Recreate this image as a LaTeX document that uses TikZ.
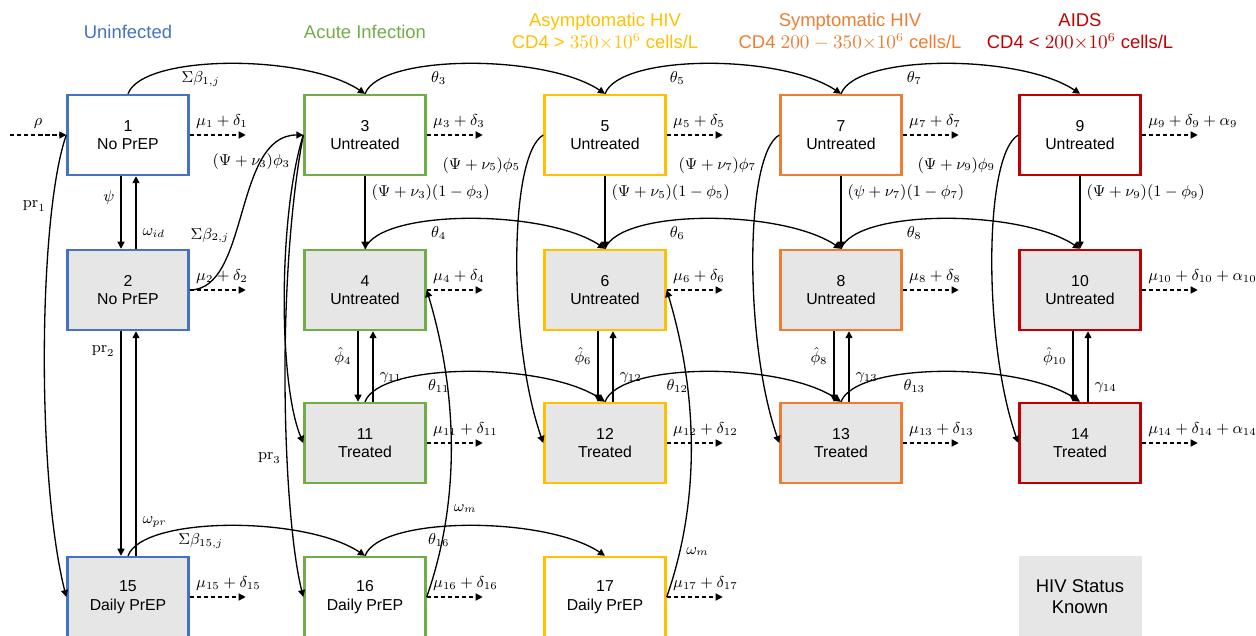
\documentclass[tikz,border=0pt]{standalone}
\usepackage[no-math]{fontspec}
\setmainfont{Liberation Sans}
\usetikzlibrary{arrows.meta}
\definecolor{uninf}{HTML}{4472C4}
\definecolor{acute}{HTML}{70AD47}
\definecolor{asym}{HTML}{FFC000}
\definecolor{sympt}{HTML}{ED7D31}
\definecolor{aids}{HTML}{C00000}
\definecolor{hivgray}{HTML}{E6E6E6}
\begin{document}
\begin{tikzpicture}[x=0.02cm,y=0.02cm,
    comp/.style={draw,line width=1.4pt,minimum width=2.42cm,minimum height=1.6cm,align=center,font=\fontsize{9}{10.5}\selectfont},
    head/.style={align=center,font=\fontsize{10.5}{12.5}\selectfont},
    flow/.style={-{Triangle[length=4pt,width=4pt]},line width=0.75pt,font=\fontsize{9}{10}\selectfont},
    loss/.style={flow,dash pattern=on 2.5pt off 1.5pt}]
  \useasboundingbox (0,0) rectangle (1256,635);
  \node[head,text=uninf] (h1) at (128,603) {Uninfected};
  \node[head,text=acute] (h2) at (365,603) {Acute Infection};
  \node[head,text=asym] (h3) at (605,603) {Asymptomatic HIV\\CD4 > $350{\times}10^{6}$ cells/L};
  \node[head,text=sympt] (h4) at (850,603) {Symptomatic HIV\\CD4 $200-350{\times}10^{6}$ cells/L};
  \node[head,text=aids] (h5) at (1080,603) {AIDS\\CD4 < $200{\times}10^{6}$ cells/L};
  \node[comp,draw=uninf] (n1) at (128,500) {1\\No PrEP};
  \node[comp,draw=uninf,fill=hivgray] (n2) at (128,345) {2\\No PrEP};
  \node[comp,draw=uninf,fill=hivgray] (n15) at (128,38) {15\\Daily PrEP};
  \node[comp,draw=acute] (n3) at (365,500) {3\\Untreated};
  \node[comp,draw=acute,fill=hivgray] (n4) at (365,345) {4\\Untreated};
  \node[comp,draw=acute,fill=hivgray] (n11) at (365,192) {11\\Treated};
  \node[comp,draw=acute] (n16) at (365,38) {16\\Daily PrEP};
  \node[comp,draw=asym] (n5) at (605,500) {5\\Untreated};
  \node[comp,draw=asym,fill=hivgray] (n6) at (605,345) {6\\Untreated};
  \node[comp,draw=asym,fill=hivgray] (n12) at (605,192) {12\\Treated};
  \node[comp,draw=asym] (n17) at (605,38) {17\\Daily PrEP};
  \node[comp,draw=sympt] (n7) at (841,500) {7\\Untreated};
  \node[comp,draw=sympt,fill=hivgray] (n8) at (841,345) {8\\Untreated};
  \node[comp,draw=sympt,fill=hivgray] (n13) at (841,192) {13\\Treated};
  \node[comp,draw=aids] (n9) at (1080,500) {9\\Untreated};
  \node[comp,draw=aids,fill=hivgray] (n10) at (1080,345) {10\\Untreated};
  \node[comp,draw=aids,fill=hivgray] (n14) at (1080,192) {14\\Treated};
  \node[fill=hivgray,minimum width=2.46cm,minimum height=1.64cm,align=center,font=\fontsize{10.5}{12}\selectfont] (key) at (1080,38) {HIV Status\\Known};
  \coordinate (rho) at (10,500);
  \draw[loss] (rho) -- (n1.west) node[midway,above]{$\rho$};
  \draw[flow] (n1.west) .. controls +(-28,-80) and +(-30,120) .. (n15.west) node[pos=0.21,left]{$\mathrm{pr}_1$};
  \draw[flow] ([xshift=-0.14cm]n1.south) -- ([xshift=-0.14cm]n2.north) node[pos=0.3,left]{$\psi$};
  \draw[flow] ([xshift=0.16cm]n2.north) -- ([xshift=0.16cm]n1.south) node[pos=0.22,right]{$\omega_{id}$};
  \draw[flow] ([xshift=-0.14cm]n2.south) -- ([xshift=-0.14cm]n15.north) node[pos=0.09,left]{$\mathrm{pr}_2$};
  \draw[flow] ([xshift=0.16cm]n15.north) -- ([xshift=0.16cm]n2.south) node[pos=0.15,right]{$\omega_{pr}$};
  \draw[flow] (n1.north) .. controls +(15,40) and +(-60,40) .. (n3.north) node[pos=0.4,below]{$\Sigma\beta_{1,j}$};
  \draw[flow] (n2.east) .. controls +(60,0) and +(-70,0) .. (n3.west) node[pos=0.4,left]{$\Sigma\beta_{2,j}$};
  \draw[flow] (n15.north) .. controls +(15,40) and +(-60,40) .. (n16.north) node[pos=0.4,below]{$\Sigma\beta_{15,j}$};
  \draw[flow] (n3.north) .. controls +(15,40) and +(-60,40) .. (n5.north) node[pos=0.4,below]{$\theta_3$};
  \draw[flow] (n5.north) .. controls +(15,40) and +(-60,40) .. (n7.north) node[pos=0.4,below]{$\theta_5$};
  \draw[flow] (n7.north) .. controls +(15,40) and +(-60,40) .. (n9.north) node[pos=0.4,below]{$\theta_7$};
  \draw[flow] (n4.north) .. controls +(15,40) and +(-60,40) .. (n6.north) node[pos=0.4,below]{$\theta_4$};
  \draw[flow] (n6.north) .. controls +(15,40) and +(-60,40) .. (n8.north) node[pos=0.4,below]{$\theta_6$};
  \draw[flow] (n8.north) .. controls +(15,40) and +(-60,40) .. (n10.north) node[pos=0.4,below]{$\theta_8$};
  \draw[flow] (n11.north) .. controls +(15,40) and +(-60,40) .. (n12.north) node[pos=0.4,below]{$\theta_{11}$};
  \draw[flow] (n12.north) .. controls +(15,40) and +(-60,40) .. (n13.north) node[pos=0.4,below]{$\theta_{12}$};
  \draw[flow] (n13.north) .. controls +(15,40) and +(-60,40) .. (n14.north) node[pos=0.4,below]{$\theta_{13}$};
  \draw[flow] (n16.north) .. controls +(15,40) and +(-60,40) .. (n17.north) node[pos=0.4,below]{$\theta_{16}$};
  \draw[flow] (n3.south) -- (n4.north) node[pos=0.23,right]{$(\Psi+\nu_3)(1-\phi_3)$};
  \draw[flow] (n5.south) -- (n6.north) node[pos=0.23,right]{$(\Psi+\nu_5)(1-\phi_5)$};
  \draw[flow] (n7.south) -- (n8.north) node[pos=0.23,right]{$(\psi+\nu_7)(1-\phi_7)$};
  \draw[flow] (n9.south) -- (n10.north) node[pos=0.23,right]{$(\Psi+\nu_9)(1-\phi_9)$};
  \draw[flow] (n3.west) .. controls +(-25,-80) and +(-25,60) .. (n11.west) node[pos=0.1,left]{$(\Psi+\nu_3)\phi_3$};
  \draw[flow] (n3.west) .. controls +(-28,-150) and +(-20,80) .. (n16.west) node[pos=0.63,left]{$\mathrm{pr}_3$};
  \draw[flow] (n5.west) .. controls +(-35,-20) and +(-35,100) .. (n12.west) node[pos=0.2,left]{$(\Psi+\nu_5)\phi_5$};
  \draw[flow] (n7.west) .. controls +(-35,-20) and +(-35,100) .. (n13.west) node[pos=0.2,left]{$(\Psi+\nu_7)\phi_7$};
  \draw[flow] (n9.west) .. controls +(-35,-20) and +(-35,100) .. (n14.west) node[pos=0.2,left]{$(\Psi+\nu_9)\phi_9$};
  \draw[flow] ([xshift=-0.14cm]n4.south) -- ([xshift=-0.14cm]n11.north) node[pos=0.36,left]{$\hat{\phi}_4$};
  \draw[flow] ([xshift=0.16cm]n11.north) -- ([xshift=0.16cm]n4.south) node[pos=0.34,right]{$\gamma_{11}$};
  \draw[flow] ([xshift=-0.14cm]n6.south) -- ([xshift=-0.14cm]n12.north) node[pos=0.36,left]{$\hat{\phi}_6$};
  \draw[flow] ([xshift=0.16cm]n12.north) -- ([xshift=0.16cm]n6.south) node[pos=0.34,right]{$\gamma_{12}$};
  \draw[flow] ([xshift=-0.14cm]n8.south) -- ([xshift=-0.14cm]n13.north) node[pos=0.36,left]{$\hat{\phi}_8$};
  \draw[flow] ([xshift=0.16cm]n13.north) -- ([xshift=0.16cm]n8.south) node[pos=0.34,right]{$\gamma_{13}$};
  \draw[flow] ([xshift=-0.14cm]n10.south) -- ([xshift=-0.14cm]n14.north) node[pos=0.36,left]{$\hat{\phi}_{10}$};
  \draw[flow] ([xshift=0.16cm]n14.north) -- ([xshift=0.16cm]n10.south) node[pos=0.2,right]{$\gamma_{14}$};
  \draw[flow] (n16.east) .. controls +(35,100) and +(30,-100) .. (n4.east) node[pos=0.29,right]{$\omega_m$};
  \draw[flow] (n17.east) .. controls +(35,100) and +(30,-100) .. (n6.east) node[pos=0.15,right]{$\omega_m$};
  \draw[loss] (n1.east) -- ++(56,0) node[pos=0,above right]{$\mu_1+\delta_1$};
  \draw[loss] (n2.east) -- ++(56,0) node[pos=0,above right]{$\mu_2+\delta_2$};
  \draw[loss] (n3.east) -- ++(56,0) node[pos=0,above right]{$\mu_3+\delta_3$};
  \draw[loss] (n4.east) -- ++(56,0) node[pos=0,above right]{$\mu_4+\delta_4$};
  \draw[loss] (n5.east) -- ++(56,0) node[pos=0,above right]{$\mu_5+\delta_5$};
  \draw[loss] (n6.east) -- ++(56,0) node[pos=0,above right]{$\mu_6+\delta_6$};
  \draw[loss] (n7.east) -- ++(56,0) node[pos=0,above right]{$\mu_7+\delta_7$};
  \draw[loss] (n8.east) -- ++(56,0) node[pos=0,above right]{$\mu_8+\delta_8$};
  \draw[loss] (n9.east) -- ++(56,0) node[pos=0,above right]{$\mu_9+\delta_9+\alpha_9$};
  \draw[loss] (n10.east) -- ++(56,0) node[pos=0,above right]{$\mu_{10}+\delta_{10}+\alpha_{10}$};
  \draw[loss] (n11.east) -- ++(56,0) node[pos=0,above right]{$\mu_{11}+\delta_{11}$};
  \draw[loss] (n12.east) -- ++(56,0) node[pos=0,above right]{$\mu_{12}+\delta_{12}$};
  \draw[loss] (n13.east) -- ++(56,0) node[pos=0,above right]{$\mu_{13}+\delta_{13}$};
  \draw[loss] (n14.east) -- ++(56,0) node[pos=0,above right]{$\mu_{14}+\delta_{14}+\alpha_{14}$};
  \draw[loss] (n15.east) -- ++(56,0) node[pos=0,above right]{$\mu_{15}+\delta_{15}$};
  \draw[loss] (n16.east) -- ++(56,0) node[pos=0,above right]{$\mu_{16}+\delta_{16}$};
  \draw[loss] (n17.east) -- ++(56,0) node[pos=0,above right]{$\mu_{17}+\delta_{17}$};
\end{tikzpicture}
\end{document}
